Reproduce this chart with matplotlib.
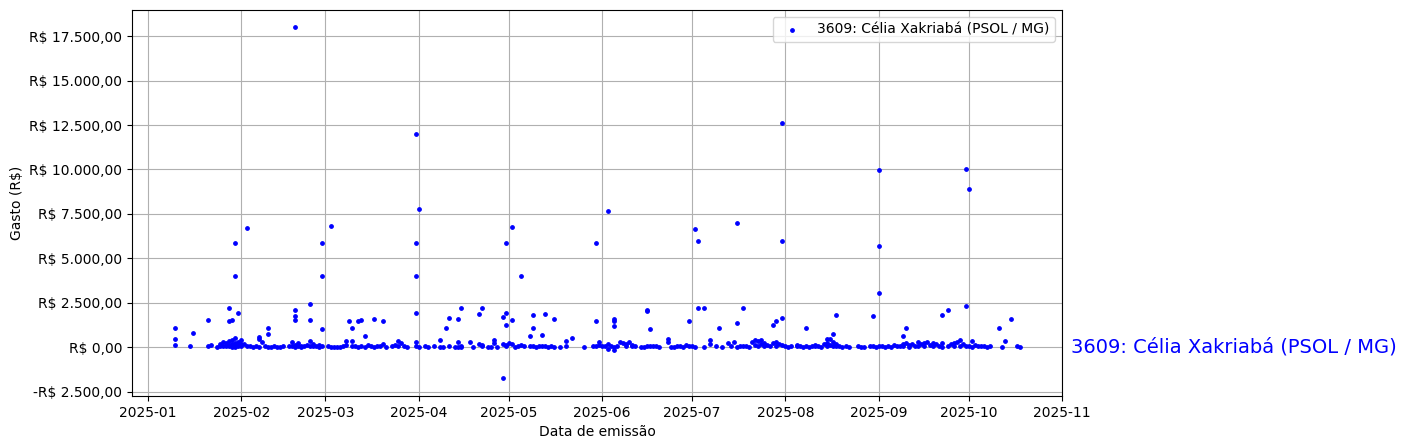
import matplotlib
matplotlib.use("Agg")
import matplotlib.pyplot as plt
import matplotlib.ticker as mticker
import pandas as pd

label = "3609: Célia Xakriabá (PSOL / MG)"

# Larger expenses (MM-DD, R$)
high_dates = ["01-10", "01-10", "01-16", "01-21", "01-28", "01-28", "01-29", "01-30", "01-30", "01-31",
              "02-03", "02-10", "02-10", "02-19", "02-19", "02-19", "02-19", "02-24", "02-24",
              "02-28", "02-28", "02-28", "03-03", "03-09", "03-10", "03-12", "03-13", "03-14", "03-17",
              "03-20", "03-31", "03-31", "03-31", "03-31", "04-01", "04-10", "04-11", "04-14", "04-15",
              "04-21", "04-22", "04-29", "04-29", "04-30", "04-30", "04-30", "05-02", "05-02", "05-05",
              "05-08", "05-09", "05-09", "05-12", "05-13", "05-16", "05-30", "05-30", "06-03", "06-05",
              "06-05", "06-05", "06-16", "06-16", "06-17", "06-30", "07-02", "07-03", "07-03", "07-05",
              "07-10", "07-16", "07-16", "07-18", "07-28", "07-29", "07-31", "07-31", "07-31", "08-08",
              "08-18", "08-30", "09-01", "09-01", "09-01", "09-09", "09-10", "09-22", "09-24", "09-30",
              "09-30", "10-01", "10-11", "10-15"]
high_values = [1110, 490, 830, 1520, 2230, 1460, 1520, 5850, 4000, 1950,
               6700, 1110, 730, 18000, 1520, 1750, 2120, 2460, 1520,
               5850, 4000, 1050, 6800, 1460, 1110, 1460, 1520, 640, 1580,
               1460, 12000, 5850, 4000, 1950, 7770, 1110, 1670, 1610, 2230,
               1890, 2230, -1700, 1700, 5850, 1950, 1280, 6750, 1520, 4000,
               640, 1800, 1110, 710, 1890, 1610, 5850, 1460, 7650, 1610,
               1460, 1200, 2080, 2060, 1050, 1460, 6640, 6000, 2230, 2230,
               1110, 7000, 1390, 2230, 1240, 1480, 12600, 6000, 1670, 1110,
               1840, 1740, 9950, 5680, 3040, 640, 1110, 1800, 2120, 10000,
               2300, 8900, 1110, 1610]

# Small everyday expenses (MM-DD, R$)
low_dates = ["01-10", "01-15", "01-21", "01-22", "01-24", "01-25", "01-25", "01-26", "01-26", "01-27",
             "01-27", "01-28", "01-28", "01-28", "01-29", "01-29", "01-29", "01-29", "01-30", "01-30",
             "01-30", "01-30", "01-31", "01-31", "01-31", "02-01", "02-01", "02-01",
             "02-02", "02-03", "02-04", "02-05", "02-06", "02-07", "02-07", "02-07", "02-08", "02-09",
             "02-10", "02-11", "02-12", "02-13", "02-14", "02-15", "02-17", "02-18", "02-18", "02-19",
             "02-19", "02-20", "02-20", "02-21", "02-21", "02-22", "02-23", "02-24", "02-24", "02-25",
             "02-25", "02-26", "02-27", "02-27", "02-28",
             "03-02", "03-03", "03-04", "03-05", "03-06", "03-07", "03-08", "03-08", "03-10", "03-10",
             "03-11", "03-12", "03-13", "03-14", "03-15", "03-16", "03-17", "03-18", "03-19", "03-20",
             "03-21", "03-23", "03-24", "03-25", "03-25", "03-26", "03-27", "03-28", "03-31", "03-31",
             "04-01", "04-03", "04-04", "04-06", "04-08", "04-08", "04-09", "04-11", "04-13", "04-14",
             "04-14", "04-15", "04-15", "04-18", "04-19", "04-21", "04-22", "04-22", "04-24", "04-25",
             "04-26", "04-26", "04-27", "04-29", "04-30", "04-30",
             "05-01", "05-02", "05-03", "05-04", "05-05", "05-06", "05-08", "05-09", "05-10", "05-11",
             "05-12", "05-13", "05-14", "05-15", "05-16", "05-18", "05-20", "05-20", "05-22", "05-26",
             "05-29", "05-30", "05-31", "05-31",
             "06-01", "06-02", "06-03", "06-03", "06-04", "06-05", "06-05", "06-06", "06-07", "06-08",
             "06-09", "06-09", "06-10", "06-11", "06-11", "06-12", "06-14", "06-15", "06-16", "06-17",
             "06-18", "06-19", "06-20", "06-23", "06-23", "06-24", "06-25", "06-26", "06-27", "06-28",
             "06-29", "06-30",
             "07-01", "07-02", "07-05", "07-07", "07-07", "07-09", "07-11", "07-13", "07-14", "07-15",
             "07-16", "07-17", "07-18", "07-19", "07-20", "07-21", "07-22", "07-22", "07-23", "07-23",
             "07-24", "07-24", "07-25", "07-25", "07-26", "07-27", "07-28", "07-29", "07-29", "07-30",
             "07-31",
             "08-01", "08-02", "08-03", "08-05", "08-05", "08-06", "08-07", "08-08", "08-09", "08-10",
             "08-11", "08-11", "08-12", "08-13", "08-14", "08-15", "08-15", "08-15", "08-16", "08-16",
             "08-17", "08-17", "08-17", "08-18", "08-18", "08-19", "08-20", "08-21", "08-22", "08-25",
             "08-26", "08-27", "08-29", "08-30", "08-31",
             "09-01", "09-02", "09-03", "09-04", "09-05", "09-06", "09-07", "09-08", "09-09", "09-09",
             "09-10", "09-11", "09-11", "09-12", "09-13", "09-14", "09-14", "09-15", "09-16", "09-16",
             "09-17", "09-18", "09-19", "09-19", "09-20", "09-21", "09-22", "09-22", "09-24", "09-25",
             "09-26", "09-26", "09-27", "09-28", "09-28", "09-29", "09-30",
             "10-01", "10-02", "10-02", "10-03", "10-04", "10-05", "10-06", "10-07", "10-08", "10-12",
             "10-13", "10-17", "10-18"]
low_values = [150, 95, 95, 150, 30, 60, 200, 100, 300, 50,
              250, 150, 350, 80, 200, 400, 120, 30, 250, 500,
              100, 20, 300, 150, 50, 200, 80, 400,
              200, 100, 50, 20, 80, 600, 490, 30, 300, 50,
              30, 10, 60, 20, 40, 50, 100, 300, 50, 150,
              30, 250, 80, 100, 20, 50, 150, 350, 100, 200,
              50, 80, 150, 30, 100,
              50, 20, 40, 10, 30, 80, 350, 150, 350, 50,
              100, 30, 80, 20, 150, 60, 30, 100, 50, 200,
              30, 80, 150, 350, 100, 250, 50, 30, 300, 100,
              30, 50, 20, 60, 390, 30, 40, 80, 20, 280,
              30, 100, 10, 280, 20, 200, 50, 150, 20, 30,
              400, 230, 10, 200, 60, 150,
              250, 200, 30, 80, 150, 100, 50, 80, 30, 100,
              50, 80, 20, 60, 30, 10, 340, 50, 550, 10,
              50, 100, 300, 150,
              100, 50, 200, -100, 100, 30, -170, 50, 300, 250,
              200, 50, 300, 150, 50, 100, 10, 20, 100, 80,
              50, 100, 30, 450, 300, 10, 40, 60, 80, 30,
              150, 100,
              80, 30, 10, 200, 390, 50, 30, 240, 60, 280,
              20, 50, 100, 80, 30, 300, 400, 150, 350, 100,
              400, 200, 250, 50, 150, 50, 250, 300, 100, 200,
              150,
              100, 30, 50, 150, 50, 80, 30, 100, 40, 60,
              150, 50, 100, 30, 200, 490, 250, 100, 490, 150,
              730, 300, 50, 200, 100, 80, 30, 50, 20, 80,
              40, 30, 50, 100, 30,
              50, 100, 30, 80, 20, 150, 50, 100, 200, 50,
              250, 150, 30, 200, 100, 300, 50, 200, 250, 80,
              300, 150, 250, 50, 200, 100, 250, 30, 80, 200,
              250, 50, 300, 390, 100, 200, 50,
              100, 340, 30, 150, 50, 80, 100, 30, 50, 10,
              340, 50, 30]

dates = pd.to_datetime(["2025-" + d for d in high_dates + low_dates])
values = high_values + low_values


def brl(v, pos=None):
    s = f"{abs(v):,.2f}".replace(",", "X").replace(".", ",").replace("X", ".")
    return ("-R$ " if v < 0 else "R$ ") + s


fig = plt.figure(figsize=(14.06, 4.48), dpi=100)
ax = fig.add_axes([0.0939, 0.116, 0.6614, 0.8617])
ax.scatter(dates, values, s=6, color="blue", label=label, zorder=3)
ax.yaxis.set_major_locator(mticker.MultipleLocator(2500))
ax.yaxis.set_major_formatter(mticker.FuncFormatter(brl))
ax.set_xlim(pd.Timestamp("2024-12-26 16:00"), pd.Timestamp("2025-11-01"))
ax.set_ylim(-2740, 18970)
ax.grid(True, color="#b0b0b0", linewidth=0.8)
ax.set_axisbelow(True)
ax.set_xlabel("Data de emissão")
ax.set_ylabel("Gasto (R$)")
ax.legend(loc="upper right")
ax.text(1.01, 0, label, transform=ax.get_yaxis_transform(), color="blue",
        fontsize=14, va="center", ha="left")
fig.savefig("out.png", dpi=100)
